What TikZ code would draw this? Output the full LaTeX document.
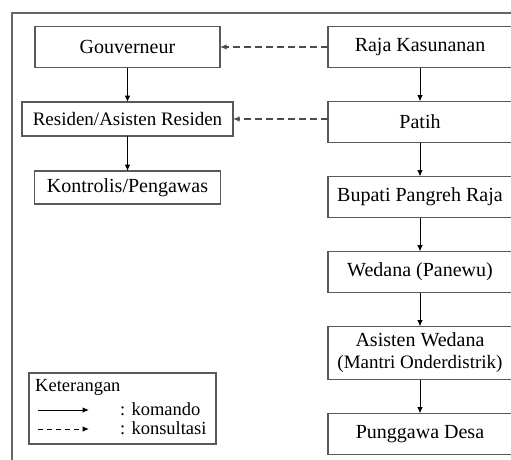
\documentclass[tikz,border=0pt]{standalone}
\usepackage{fontspec}
\setmainfont{Liberation Serif}
\usetikzlibrary{arrows.meta,positioning}

\begin{document}
\begin{tikzpicture}
      [
        x=1pt, y=-1pt,
        node distance = 34pt,
        OrgBlock/.style={draw=black!65, line width=1.2pt, minimum width=184pt, minimum height=41pt, inner sep=0pt, outer sep=0pt, font=\fontsize{20}{22}\selectfont},
        LegendText/.style={inner sep=0pt, anchor=west, font=\fontsize{18.5}{20}\selectfont},
        Komando/.style={-{Latex[length=6.5pt, width=5.5pt]}, line width=1pt},
        Konsultasi/.style={-{Latex[length=6.5pt, width=5.5pt]}, line width=1.3pt, draw=black!70, dash pattern=on 7pt off 4pt},
      ]

      \useasboundingbox (0,0) rectangle (511,459);
      \clip (0,0) rectangle (511,459);
      \draw [draw=black!60, line width=1.2pt] (12,13) rectangle (560,500);

      % pihak kasunanan
      \node [OrgBlock] (raja) at (420,47) {Raja Kasunanan};
      \node [OrgBlock, below=of raja] (patih) {Patih};
      \node [OrgBlock, below=of patih] (bupati) {Bupati Pangreh Raja};
      \node [OrgBlock, below=of bupati] (wedana) {Wedana (Panewu)};
      \node [OrgBlock, below=of wedana, minimum height=53pt, align=center] (asisten)
        {Asisten Wedana\\{\fontsize{19}{22}\selectfont(Mantri Onderdistrik)}};
      \node [OrgBlock, below=of asisten] (desa) {Punggawa Desa};

      % pihak belanda
      \node [OrgBlock, minimum width=185pt] (gouv) at (127.5,47) {Gouverneur};
      \node [OrgBlock, below=34.5pt of gouv, minimum width=211pt, minimum height=34pt,
        font=\fontsize{19}{22}\selectfont] (residen) {Residen/Asisten Residen};
      \node [OrgBlock, below=35pt of residen, minimum width=186pt, minimum height=33pt] (kontrolis) {Kontrolis/Pengawas};

      \draw [Komando] (raja) -- (patih);
      \draw [Komando] (patih) -- (bupati);
      \draw [Komando] (bupati) -- (wedana);
      \draw [Komando] (wedana) -- (asisten);
      \draw [Komando] (asisten) -- (desa);
      \draw [Komando] (gouv) -- (residen);
      \draw [Komando] (residen) -- (kontrolis);

      \draw [Konsultasi] (raja.west |- gouv.east) -- (gouv.east);
      \draw [Konsultasi] (patih.west |- residen.east) -- (residen.east);

      % keterangan
      \node [draw=black!65, line width=1.2pt, minimum width=187pt, minimum height=71pt, inner sep=0pt] (legend) at (122.5,408.5) {};
      \node [LegendText] (ket) at (35,387) {Keterangan};
      \node [LegendText] (kom) at (120,409) {: komando};
      \node [LegendText] (kon) at (120,428) {: konsultasi};
      \coordinate (kom1) at (38,410);
      \coordinate (kom2) at (89,410);
      \coordinate (kon1) at (38,429);
      \coordinate (kon2) at (89,429);
      \draw [Komando] (kom1) -- (kom2);
      \draw [Komando, dash pattern=on 5pt off 4pt] (kon1) -- (kon2);
\end{tikzpicture}
\end{document}
